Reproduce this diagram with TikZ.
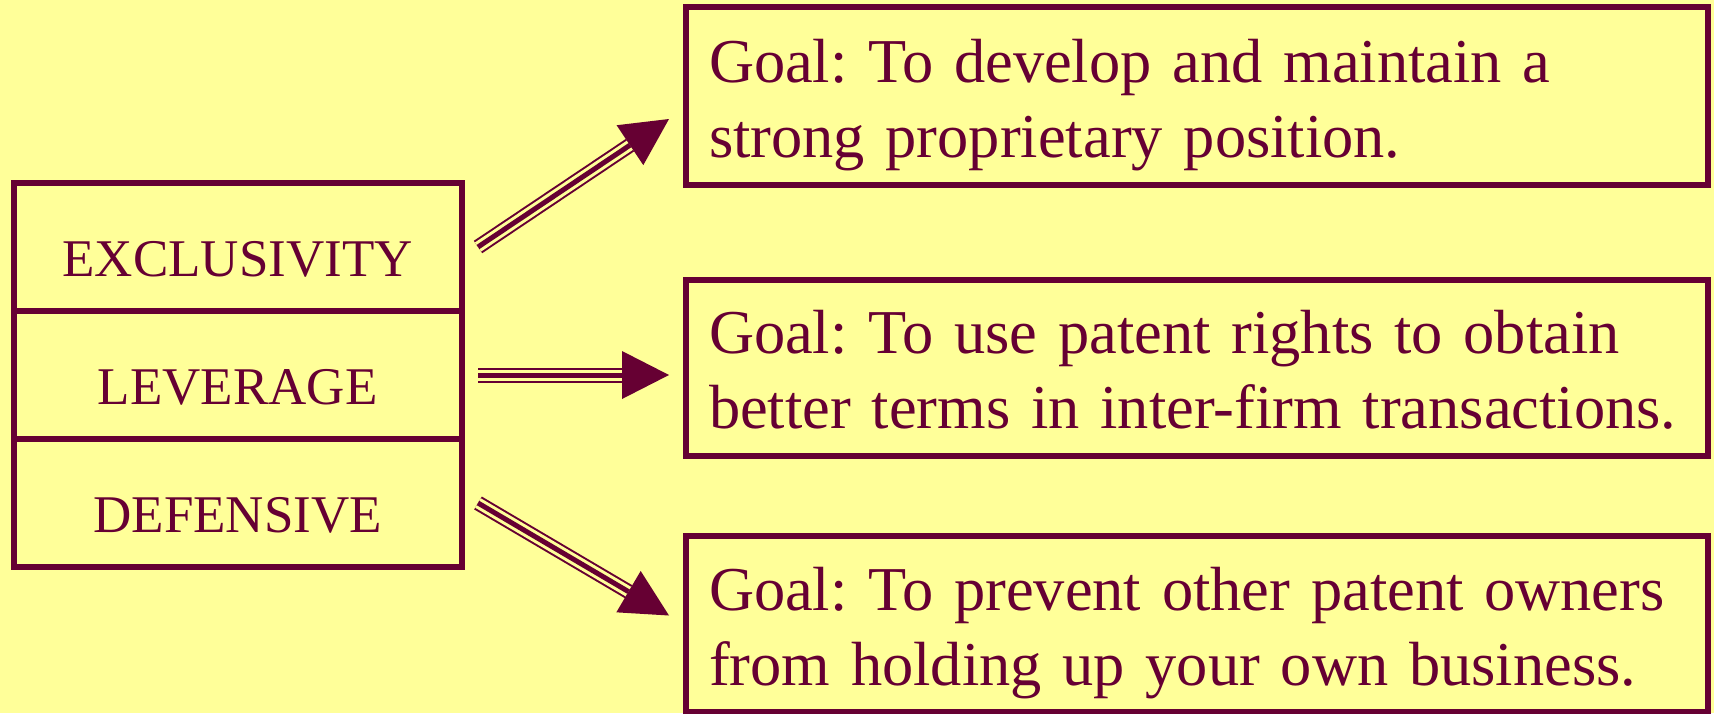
\documentclass[tikz,border=0pt]{standalone}
\usepackage{fontspec}
\setmainfont{Liberation Serif}
\usetikzlibrary{calc}
\definecolor{paper}{RGB}{255,255,153}
\definecolor{wine}{RGB}{102,0,51}
\frenchspacing

% triple-line arrow from a tail coordinate to a tip coordinate
\newcommand\goalarrow[3]{%
  \coordinate (#3) at ($(#2)!47pt!(#1)$);
  \draw[shaft] (#1) -- (#3);
  \fill[wine] (#2) -- ($(#3)!24pt!90:(#2)$) -- ($(#3)!24pt!-90:(#2)$) -- cycle;
}

\begin{document}
\begin{tikzpicture}[x=1pt,y=-1pt,
  kind/.style={draw=wine, text=wine, line width=6pt, anchor=north west,
    minimum width=448.5pt, minimum height=128pt, inner sep=0pt, outer sep=0pt,
    text height=93pt, text depth=35pt, font=\fontsize{53pt}{60pt}\selectfont},
  goal/.style={draw=wine, text=wine, line width=6pt, anchor=north west,
    minimum width=1021.5pt, inner xsep=23pt, inner ysep=0pt, outer sep=0pt,
    text width=975.5pt, align=left, font=\fontsize{62.4pt}{75pt}\selectfont},
  shaft/.style={draw=wine, line width=15pt,
    postaction={draw=paper, line width=11pt},
    postaction={draw=wine, line width=5pt}}
]
\useasboundingbox (0,0) rectangle (1714,713);
\fill[paper] (0,0) rectangle (1714,713);

% the three kinds of patent strategy
\node[kind] (ex)  at (13.5,183) {EXCLUSIVITY};
\node[kind] (lev) at (13.5,311) {LEVERAGE};
\node[kind] (def) at (13.5,439) {DEFENSIVE};

% the goal of each strategy
\node[goal, minimum height=178pt] (g1) at (686,7)
  {\rule{0pt}{74pt}\mbox{Goal: To develop and maintain a}\\
   \rule[-27pt]{0pt}{27pt}\mbox{strong proprietary position.}};
\node[goal, minimum height=175.5pt] (g2) at (686,279.5)
  {\rule{0pt}{74pt}\mbox{Goal: To use patent rights to obtain}\\
   \rule[-27pt]{0pt}{27pt}\mbox{better terms in inter-firm transactions.}};
\node[goal, minimum height=175pt] (g3) at (686,536)
  {\rule{0pt}{74pt}\mbox{Goal: To prevent other patent owners}\\
   \rule[-27pt]{0pt}{27pt}\mbox{from holding up your own business.}};

% connectors
\coordinate (t1) at ($(ex.east)+(16,0)$);
\coordinate (t2) at ($(lev.east)+(16,0)$);
\coordinate (t3) at ($(def.east)+(16,0)$);
\coordinate (h1) at ($(g1.west)+(-17,23)$);
\coordinate (h2) at ($(g2.west)+(-17,7.5)$);
\coordinate (h3) at ($(g3.west)+(-17,-8.5)$);
\goalarrow{t1}{h1}{b1}
\goalarrow{t2}{h2}{b2}
\goalarrow{t3}{h3}{b3}
\end{tikzpicture}
\end{document}
